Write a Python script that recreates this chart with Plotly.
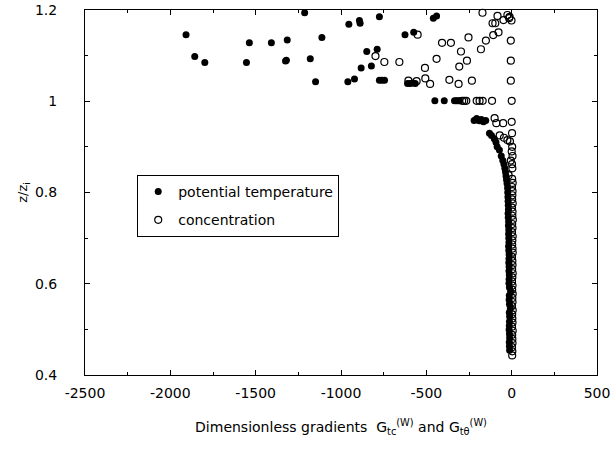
import plotly.graph_objects as go

# ---- potential temperature (filled) ----
theta_x = [
    -1908, -1857, -1798, -1554, -1537, -1408, -1315, -1320, -1325, -1213, -1180, -1149, -1112,
    -954, -892, -888, -775, -625, -574, -459, -440, -849, -788, -882, -822, -960, -921,
    -775, -760, -745, -610, -595, -580, -565,
    -450, -395, -335, -325, -315, -305,
    -220, -205, -190, -178, -165, -152,
    -130, -118, -102, -92, -85, -72, -61, -52, -45, -40, -36, -33, -30, -27, -24, -23, -22,
    -21, -20, -19, -21, -20, -18, -19, -17, -18, -17, -16, -18, -17, -15, -16, -17, -15, -16,
    -14, -15, -16, -13, -6, -14, -15, -13, -8, -14, -12, -13, -14, -15, -13, -12, -14, -13, -12,
]
theta_y = [
    1.146, 1.098, 1.085, 1.085, 1.128, 1.128, 1.134, 1.090, 1.088, 1.194, 1.093, 1.043, 1.140,
    1.169, 1.177, 1.171, 1.185, 1.146, 1.151, 1.182, 1.187, 1.109, 1.114, 1.073, 1.077, 1.043, 1.049,
    1.046, 1.046, 1.046, 1.039, 1.039, 1.040, 1.039,
    1.001, 1.001, 1.001, 1.001, 1.001, 1.001,
    0.958, 0.962, 0.957, 0.960, 0.955, 0.958,
    0.930, 0.925, 0.918, 0.910, 0.900, 0.893, 0.880, 0.870, 0.862, 0.853, 0.845, 0.836, 0.828,
    0.820, 0.810, 0.800, 0.790,
    0.781, 0.772, 0.763, 0.754, 0.745, 0.736, 0.727, 0.718, 0.709, 0.700, 0.691, 0.682, 0.673,
    0.664, 0.655, 0.646, 0.637, 0.628, 0.619, 0.610, 0.601, 0.592, 0.583, 0.574, 0.565, 0.555,
    0.546, 0.537, 0.528, 0.517, 0.508, 0.499, 0.490, 0.481, 0.472, 0.463, 0.454, 0.445, 0.436,
    0.427, 0.418, 0.409, 0.402,
]

# ---- concentration (open) ----
conc_x = [
    -171, -83, -25, -15, -12, -48, -112, -96, -1, -108, -77, -253, -408, -356, -151, -5,
    -180, -297, -262, -307, -5, -365, -311, -233, -5,
    -551, -798, -746, -658, -508, -440, -605, -557, -506, -478,
    -290, -278, -266, -205, -188, -170, -115, 0,
    -100, -90, -50, 0, -70, -45, -25, -10, 2,
    3, 0, 5, -5, 2, 4, -18, 3, 6, 2, 5, 4, 3, 6, 2, 5, 4, 7, 3, 5, 2, 6, 4, 3, 5, 6, 2, 4,
    5, 3, 6, 4, 2, 5, 3, 6, 4, 5, 2, 6, 3, 4, 5, 2, 6, 3, 4, 5, 2, 4, 3,
]
conc_y = [
    1.194, 1.187, 1.189, 1.182, 1.185, 1.178, 1.171, 1.171, 1.177, 1.145, 1.151, 1.140, 1.128, 1.128, 1.133, 1.133,
    1.114, 1.109, 1.089, 1.076, 1.089, 1.047, 1.038, 1.045, 1.045,
    1.146, 1.099, 1.086, 1.086, 1.073, 1.093, 1.045, 1.044, 1.050, 1.038,
    1.001, 1.001, 1.001, 1.001, 1.001, 1.001, 1.001, 1.001,
    0.963, 0.952, 0.952, 0.955, 0.925, 0.920, 0.915, 0.912, 0.930,
    0.900, 0.890, 0.880, 0.870, 0.862, 0.853, 0.838, 0.830, 0.821, 0.812, 0.803, 0.794, 0.785,
    0.776, 0.767, 0.758, 0.749, 0.740, 0.731, 0.722, 0.713, 0.704, 0.695, 0.686, 0.677, 0.668,
    0.659, 0.650, 0.641, 0.632, 0.623, 0.614, 0.605, 0.596, 0.587, 0.578, 0.569, 0.560, 0.551,
    0.542, 0.533, 0.524, 0.515, 0.506, 0.497, 0.488, 0.479, 0.470, 0.461, 0.452, 0.443, 0.434,
    0.425, 0.416, 0.407,
]

x_tickvals = [-2500, -2000, -1500, -1000, -500, 0, 500]
x_ticktext = ["-2500", "-2000", "-1500", "-1000", "-500", "0", "500"]
y_tickvals = [0.4, 0.6, 0.8, 1.0, 1.2]
y_ticktext = ["0.4", "0.6", "0.8", "1", "1.2"]

FONT = "DejaVu Sans, Verdana, sans-serif"

fig = go.Figure()
fig.add_trace(go.Scatter(
    x=theta_x, y=theta_y, mode="markers", name="potential temperature",
    legendgroup="theta",
    marker=dict(symbol="circle", size=7, color="black", line=dict(width=0)),
    cliponaxis=False,
))
fig.add_trace(go.Scatter(
    x=conc_x, y=conc_y, mode="markers", name="concentration",
    legendgroup="conc",
    marker=dict(symbol="circle-open", size=7, color="black", line=dict(width=1.2)),
    cliponaxis=False,
))

axis_common = dict(
    showline=True, linecolor="black", linewidth=1, mirror="ticks",
    ticks="inside", ticklen=5, tickcolor="black", tickwidth=1,
    showgrid=False, zeroline=False, automargin=False,
    tickfont=dict(family=FONT, size=14, color="black"),
)
fig.update_xaxes(
    range=[-2500, 500], tickvals=x_tickvals, ticktext=x_ticktext,
    ticklabelstandoff=5,
    minor=dict(ticks="inside", ticklen=3, dtick=250, tick0=0, tickcolor="black", showgrid=False),
    title=dict(text="Dimensionless gradients  G<sub>tc</sub><sup>(W)</sup> and G<sub>tθ</sub><sup>(W)</sup>",
               font=dict(family=FONT, size=14, color="black"), standoff=22),
    **axis_common,
)
fig.update_yaxes(
    range=[0.4, 1.2], tickvals=y_tickvals, ticktext=y_ticktext,
    ticklabelstandoff=24,
    minor=dict(ticks="inside", ticklen=3, dtick=0.1, tick0=0, tickcolor="black", showgrid=False),
    title=dict(text="z/z<sub>i</sub>", font=dict(family=FONT, size=13, color="black"), standoff=4),
    **axis_common,
)
fig.update_layout(
    width=613, height=451,
    margin=dict(l=85, r=16, t=10, b=76),
    plot_bgcolor="white", paper_bgcolor="white",
    font=dict(family=FONT, size=13, color="black"),
    showlegend=True,
    legend=dict(
        x=0.102, y=0.548, xanchor="left", yanchor="top",
        bordercolor="black", borderwidth=1, bgcolor="white",
        font=dict(family=FONT, size=14, color="black"),
        itemsizing="trace", tracegroupgap=7,
    ),
)
fig.write_html("out.html", config={"displayModeBar": False},
               post_script="document.body.style.margin='0';")
